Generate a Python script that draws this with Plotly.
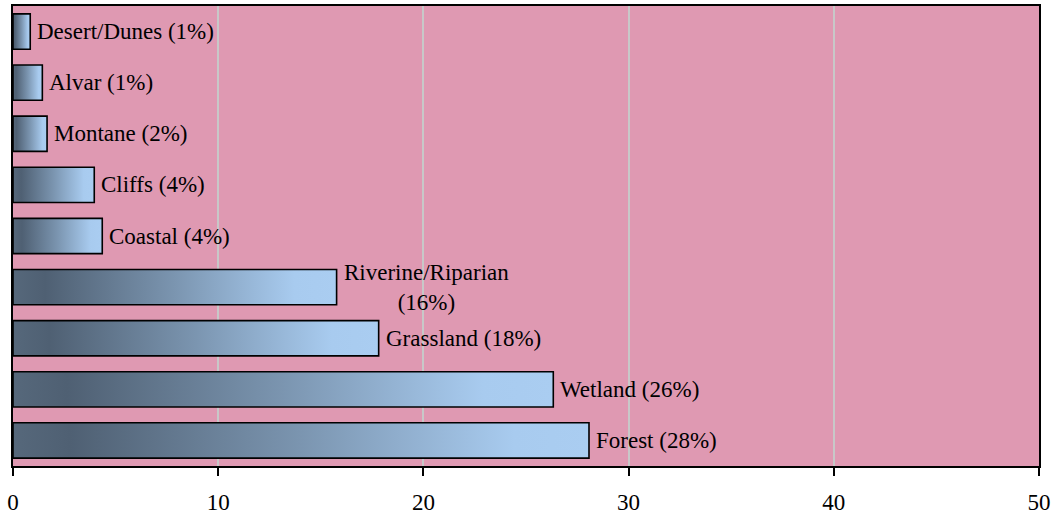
import plotly.graph_objects as go

categories = ["Forest", "Wetland", "Grassland", "Riverine/Riparian", "Coastal",
              "Cliffs", "Montane", "Alvar", "Desert/Dunes"]
values = [28.07, 26.33, 17.82, 15.77, 4.35, 3.96, 1.66, 1.43, 0.84]
labels = ["Forest (28%)", "Wetland (26%)", "Grassland (18%)",
          "Riverine/Riparian<br>(16%)", "Coastal (4%)", "Cliffs (4%)",
          "Montane (2%)", "Alvar (1%)", "Desert/Dunes (1%)"]
x_ticks = [0, 10, 20, 30, 40, 50]

half = 0.345
grad = [[0.0, "#56687b"], [0.1, "#4f6073"], [0.5, "#7b95b0"],
        [0.87, "#a8cbef"], [1.0, "#aacdf1"]]

fig = go.Figure()
for i, (cat, v) in enumerate(zip(categories, values)):
    fig.add_trace(go.Scatter(
        x=[0, v, v, 0, 0],
        y=[i - half, i - half, i + half, i + half, i - half],
        mode="lines", fill="toself",
        fillgradient=dict(type="horizontal", colorscale=grad),
        line=dict(color="black", width=1.6),
        name=cat, showlegend=False, hoverinfo="skip",
    ))

for i, (v, t) in enumerate(zip(values, labels)):
    fig.add_annotation(x=v, y=i, text=t, showarrow=False, xanchor="left",
                       yanchor="middle", xshift=5, align="center",
                       font=dict(family="Liberation Serif", size=23, color="black"))

fig.update_layout(
    width=1057, height=514,
    margin=dict(l=13, r=18, t=6, b=48),
    plot_bgcolor="#df99b2", paper_bgcolor="white",
    xaxis=dict(range=[0, 50], tickvals=x_ticks, ticktext=[str(t) for t in x_ticks],
               showgrid=True, gridcolor="#c8c8c8", gridwidth=1.5,
               showline=True, linecolor="black", linewidth=2, mirror=True,
               ticks="outside", ticklen=8, tickwidth=2, tickcolor="black",
               ticklabelstandoff=6, zeroline=False, automargin=False,
               tickfont=dict(family="Liberation Serif", size=23, color="black")),
    yaxis=dict(range=[-0.5, 8.5], showticklabels=False, showgrid=False,
               zeroline=False, showline=True, linecolor="black", linewidth=2,
               mirror=True, ticks="", automargin=False),
)

fig.write_html("out.html")
